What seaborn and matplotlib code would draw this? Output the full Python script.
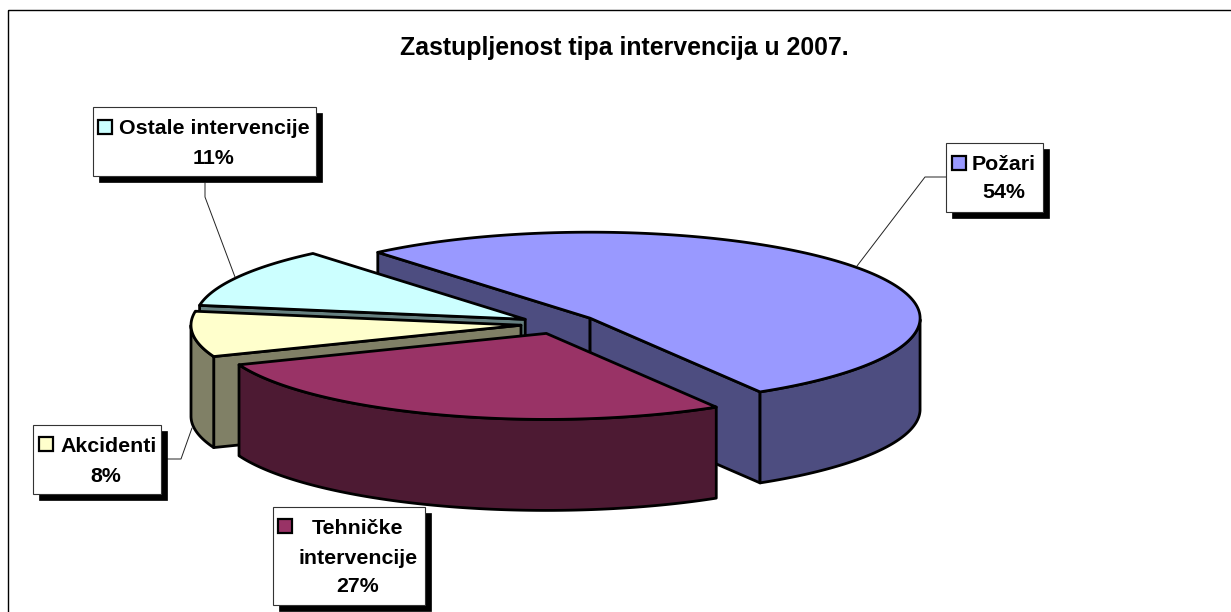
import numpy as np
import matplotlib
matplotlib.use("Agg")
import matplotlib.pyplot as plt
from matplotlib.patches import Rectangle
import seaborn as sns

# Data
title = "Zastupljenost tipa intervencija u 2007."
categories = ["Požari", "Tehničke\nintervencije", "Akcidenti", "Ostale intervencije"]
values = [53.5, 27.1, 8.3, 11.1]
top_colors = ["#9999FF", "#993366", "#FFFFCC", "#CCFFFF"]
side_colors = ["#4D4D80", "#4D1A33", "#808066", "#668080"]

# Layout (pixels)
W, H = 1231, 612
CX, CY, RX, RY, DEPTH = 559, 324, 330, 86, 91
EXPLODE = 0.116
START = 132
PERSPECTIVE = 1.8
draw_order = [0, 3, 2, 1]
LW = 2.0

sns.set_theme(style="white")
plt.rcParams["font.family"] = ["Liberation Sans", "DejaVu Sans"]
palette = sns.color_palette(top_colors)
side_palette = sns.color_palette(side_colors)

fig = plt.figure(figsize=(W / 100, H / 100), dpi=100, facecolor="white")
ax = fig.add_axes([0, 0, 1, 1])
ax.set_xlim(0, W)
ax.set_ylim(H, 0)
ax.axis("off")

ax.add_patch(Rectangle((7.5, 10), W, H, fill=False, ec="black", lw=1.0, zorder=0))


def warp(a):
    # small angular distortion of the tilted 3-D view
    return a - 0.2 + PERSPECTIVE * np.cos(np.radians(a + 60))


def rim(cx, cy, a):
    a = np.radians(warp(a))
    return cx + RX * np.cos(a), cy - RY * np.sin(a)


fractions = np.array(values) / sum(values)
edges = START - np.concatenate([[0], np.cumsum(fractions)]) * 360
z = 1


def poly(xs, ys, color):
    global z
    ax.fill(xs, ys, facecolor=color, edgecolor="black", lw=LW, joinstyle="round", zorder=z)
    z += 1


for i in draw_order:
    a0, a1 = edges[i], edges[i + 1]
    mid = np.radians((a0 + a1) / 2)
    cx = CX + EXPLODE * RX * np.cos(mid)
    cy = CY - EXPLODE * RY * np.sin(mid)
    # radial walls facing the viewer
    for a, visible in ((a0, np.cos(np.radians(a0)) < 0), (a1, np.cos(np.radians(a1)) > 0)):
        if visible:
            x, y = rim(cx, cy, a)
            poly([cx, x, x, cx], [cy, y, y + DEPTH, cy + DEPTH], side_palette[i])
    # outer wall: only the front half of the rim
    t = np.linspace(a0, a1, 200)
    front = t[np.sin(np.radians(warp(t))) < 0]
    if len(front) > 1:
        x, y = rim(cx, cy, front)
        poly(np.r_[x, x[::-1]], np.r_[y, y[::-1] + DEPTH], side_palette[i])
    # top face
    x, y = rim(cx, cy, t)
    poly(np.r_[cx, x], np.r_[cy, y], palette[i])

ax.text(624.5, 48, title, ha="center", va="center", fontsize=17.9, fontweight="bold",
        color="black", zorder=50)

# Leader lines
leaders = [
    ([946, 925, 857], [177, 177, 266]),
    ([205, 205, 235], [183, 197, 277]),
    ([167, 181, 192], [459, 459, 428]),
]
for xs, ys in leaders:
    ax.plot(xs, ys, color="#222222", lw=0.7, zorder=40)

# Labels: box, key, text lines (x, y, ha)
labels = [
    dict(i=0, box=(946, 143, 97, 69), key=(952, 156),
         lines=[("Požari", 972, 163, "left")], pct=(1004, 191)),
    dict(i=1, box=(273, 507, 152, 98), key=(278, 519),
         lines=[("Tehničke", 358, 527, "center"), ("intervencije", 358, 556, "center")], pct=(358, 585)),
    dict(i=2, box=(33, 425, 128, 69), key=(39, 437),
         lines=[("Akcidenti", 60, 445, "left")], pct=(106, 474)),
    dict(i=3, box=(93, 107, 223, 69), key=(98, 120),
         lines=[("Ostale intervencije", 119, 127, "left")], pct=(214, 157)),
]
fs = 15.4
for lab in labels:
    bx, by, bw, bh = lab["box"]
    ax.add_patch(Rectangle((bx + 6, by + 6), bw, bh, fc="black", ec="black", lw=0.5, zorder=60))
    ax.add_patch(Rectangle((bx, by), bw, bh, fc="white", ec="#333333", lw=0.8, zorder=61))
    ax.add_patch(Rectangle(lab["key"], 14, 14, fc=palette[lab["i"]], ec="black", lw=1.6, zorder=62))
    for s, x, y, ha in lab["lines"]:
        ax.text(x, y, s, ha=ha, va="center_baseline", fontsize=fs, fontweight="bold", color="black", zorder=63)
    ax.text(*lab["pct"], f"{round(values[lab['i']])}%", ha="center", va="center_baseline",
            fontsize=fs, fontweight="bold", color="black", zorder=63)

fig.savefig("out.png", dpi=100, facecolor="white")
